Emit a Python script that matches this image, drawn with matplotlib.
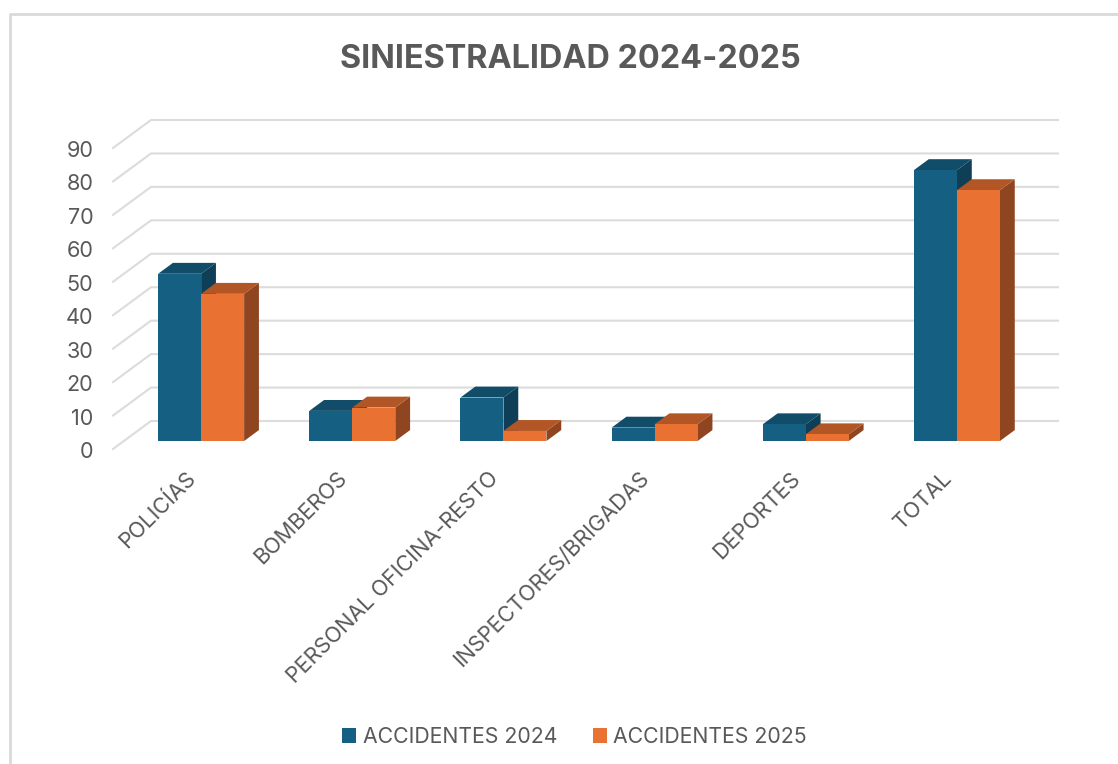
import matplotlib.pyplot as plt
from matplotlib.lines import Line2D
from matplotlib.transforms import ScaledTranslation

categorias = ['POLICÍAS', 'BOMBEROS', 'PERSONAL OFICINA-RESTO',
              'INSPECTORES/BRIGADAS', 'DEPORTES', 'TOTAL']
accidentes_2024 = [50, 9, 13, 4, 5, 81]
accidentes_2025 = [44, 10, 3, 5, 2, 75]
y_ticks = [0, 10, 20, 30, 40, 50, 60, 70, 80, 90]

W, H = 1118, 764
AZUL = ('#156082', '#114d68', '#0e3f56')
NARANJA = ('#e97132', '#b35626', '#8f451f')
GRIS = '#595959'
GRID = '#dcdcdc'

# tamaños en pixeles de la imagen
PX_X = 151.2      # por categoria
PX_Y = 3.345      # por unidad
DX = 38 / PX_X    # fondo de la pared
DY = 28 / PX_Y
BAR_W = 43 / PX_X
D0, D1 = 0.33, 0.72   # donde empieza y acaba la barra en profundidad

plt.rcParams['font.family'] = ['Inter', 'DejaVu Sans']

fig = plt.figure(figsize=(W / 100, H / 100), dpi=100)
ax = fig.add_axes([113 / W, 1 - 449 / H, 907 / W, 301 / H])
ax.set_xlim(-0.5, 5.5)
ax.set_ylim(0, 90)
ax.patch.set_visible(False)
for s in ax.spines.values():
    s.set_visible(False)


def proj(x, y, d):
    return x + d * DX, y + d * DY


def dibuja_barra(x, v, colores):
    # cara lateral, tapa y frente
    x0, x1 = x, x + BAR_W
    y0 = 8 / PX_Y
    lado = [proj(x1, y0 - D0 * DY, D0), proj(x1, y0 - D0 * DY, D1),
            proj(x1, v + y0 - D0 * DY, D1), proj(x1, v + y0 - D0 * DY, D0)]
    tapa = [proj(x0, v + y0 - D0 * DY, D0), proj(x0, v + y0 - D0 * DY, D1),
            proj(x1, v + y0 - D0 * DY, D1), proj(x1, v + y0 - D0 * DY, D0)]
    ax.fill(*zip(*lado), color=colores[2], lw=0, clip_on=False, zorder=3)
    ax.fill(*zip(*tapa), color=colores[1], lw=0, clip_on=False, zorder=3)
    return ax.bar(x0 + D0 * DX, v, BAR_W, bottom=y0, align='edge', color=colores[0],
                  clip_on=False, zorder=3)


# paredes
for t in y_ticks:
    xb, yb = proj(-0.5, t, 1)
    xe, ye = proj(5.5, t, 1)
    ax.plot([-0.5, xb, xe], [t, yb, ye], color=GRID, lw=1.5, clip_on=False,
            zorder=1, solid_joinstyle='miter')

for i in range(len(categorias)):
    h1 = dibuja_barra(i - BAR_W, accidentes_2024[i], AZUL)
    h2 = dibuja_barra(i, accidentes_2025[i], NARANJA)

ax.set_yticks(y_ticks)
ax.set_xticks(range(len(categorias)))
ax.set_xticklabels(categorias, rotation=45, ha='right', va='top', rotation_mode='anchor')
ax.tick_params(axis='both', length=0, labelsize=15.6, labelcolor=GRIS)
ax.tick_params(axis='y', pad=14)
ax.tick_params(axis='x', pad=13)

# ajustar un poco las etiquetas de los ejes
baja = ScaledTranslation(0, -1 / 100, fig.dpi_scale_trans)
for lab in ax.get_yticklabels():
    lab.set_transform(lab.get_transform() + baja)
izq = ScaledTranslation(-3 / 100, -1 / 100, fig.dpi_scale_trans)
for lab in ax.get_xticklabels():
    lab.set_transform(lab.get_transform() + izq)

fig.text(570 / W, 1 - 60 / H, 'SINIESTRALIDAD 2024-2025', ha='center', va='center',
         fontsize=23.3, fontweight='bold', color=GRIS)

fig.legend([h1[0], h2[0]], ['ACCIDENTES 2024', 'ACCIDENTES 2025'], loc='center',
           bbox_to_anchor=(574.5 / W, 1 - 737 / H), ncol=2, frameon=False, fontsize=15.3,
           labelcolor=GRIS, handlelength=0.67, handleheight=0.67, handletextpad=0.29,
           columnspacing=1.68)

# borde del recuadro (izquierda y arriba)
fig.add_artist(Line2D([9.5 / W, 9.5 / W, 1], [0, 1 - 13.5 / H, 1 - 13.5 / H],
                      color='#d9d9d9', lw=2, transform=fig.transFigure))

fig.savefig('out.png', dpi=100)
